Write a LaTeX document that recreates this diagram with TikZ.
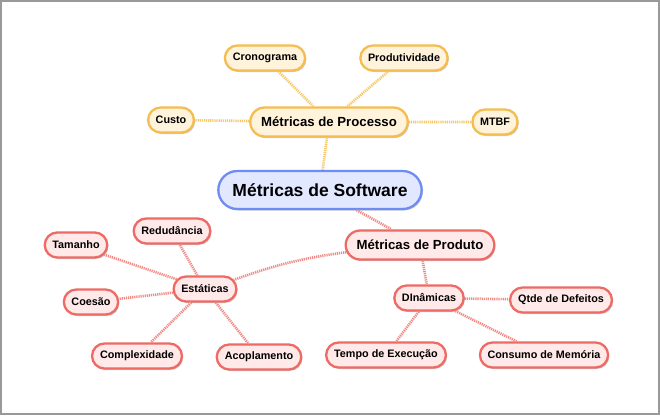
\documentclass[tikz,border=0pt]{standalone}
\usepackage{fontspec}
\setmainfont{Liberation Sans}
\usetikzlibrary{shapes.misc,shadows}
\definecolor{procfill}{HTML}{FFF3DC}
\definecolor{procdraw}{HTML}{F5BD4F}
\definecolor{procline}{HTML}{F7C86A}
\definecolor{softfill}{HTML}{E2E8FF}
\definecolor{softdraw}{HTML}{6E8CF2}
\definecolor{prodfill}{HTML}{FFE9E9}
\definecolor{proddraw}{HTML}{EE6B65}
\definecolor{prodline}{HTML}{F08A85}
\tikzset{
  box/.style={rounded rectangle, line width=2.3pt, font=\bfseries\fontsize{10.8}{12}\selectfont,
    inner xsep=7pt, inner ysep=0pt, minimum height=25pt,
    drop shadow={shadow xshift=1.2pt, shadow yshift=-1.5pt, opacity=0.35, fill=black!60}},
  proc/.style={box, draw=procdraw, fill=procfill},
  prod/.style={box, draw=proddraw, fill=prodfill},
  big/.style={font=\bfseries\fontsize{13.2}{15}\selectfont, minimum height=29pt, inner xsep=10pt},
  huge/.style={box, draw=softdraw, fill=softfill, font=\bfseries\fontsize{17.5}{20}\selectfont, minimum height=38pt, inner xsep=13pt},
  pline/.style={draw=procline, line width=2.6pt, dash pattern=on 1.2pt off 0.9pt},
  rline/.style={draw=prodline, line width=2.6pt, dash pattern=on 1.2pt off 0.9pt},
}
\begin{document}
\begin{tikzpicture}[x=1pt,y=-1pt]
\useasboundingbox (0,0) rectangle (660,415);
\fill[white] (0,0) rectangle (660,415);
\draw[gray!80, line width=2pt] (1,1) rectangle (659,414);

% nodes
\node[huge] (sw) at (320,190) {Métricas de Software};
\node[proc,big] (mp) at (329,122) {Métricas de Processo};
\node[proc] (cr) at (265,58) {Cronograma};
\node[proc] (pr) at (404,58) {Produtividade};
\node[proc] (cu) at (171,120) {Custo};
\node[proc] (mt) at (495,122) {MTBF};

\node[prod,big] (mpr) at (420,245) {Métricas de Produto};
\node[prod] (es) at (205,289) {Estáticas};
\node[prod] (re) at (172,231) {Redudância};
\node[prod] (ta) at (76,245) {Tamanho};
\node[prod] (co) at (91,302) {Coesão};
\node[prod] (cp) at (137,356) {Complexidade};
\node[prod] (ac) at (259,357) {Acoplamento};
\node[prod] (di) at (429,298) {DInâmicas};
\node[prod] (qd) at (561,300) {Qtde de Defeitos};
\node[prod] (te) at (386,355) {Tempo de Execução};
\node[prod] (cm) at (544,355) {Consumo de Memória};

% connectors
\path[pline] (sw) -- (mp);
\path[pline] (mp) -- (cr);
\path[pline] (mp) -- (pr);
\path[pline] (mp) -- (cu);
\path[pline] (mp) -- (mt);
\path[rline] (sw) -- (mpr);
\path[rline] (mpr) to[bend right=6] (es);
\path[rline] (mpr) -- (di);
\path[rline] (es) -- (re);
\path[rline] (es) -- (ta);
\path[rline] (es) -- (co);
\path[rline] (es) -- (cp);
\path[rline] (es) -- (ac);
\path[rline] (di) -- (qd);
\path[rline] (di) -- (te);
\path[rline] (di) -- (cm);
\end{tikzpicture}
\end{document}
